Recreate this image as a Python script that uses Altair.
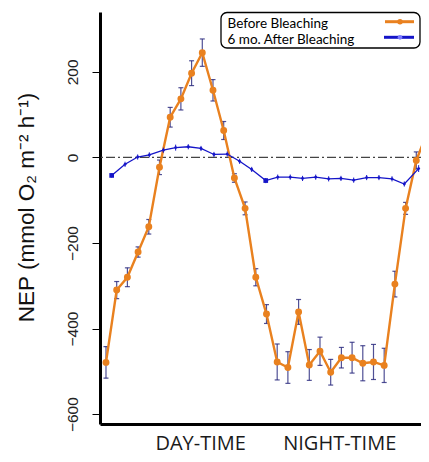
import altair as alt
import pandas as pd

series_names = ["Before Bleaching", "6 mo. After Bleaching"]
period_labels = ["DAY-TIME", "NIGHT-TIME"]
period_pos = [8.8, 21.8]
y_ticks = [200, 0, -200, -400, -600]

before_t = list(range(31))
before_nep = [-479, -310, -280, -221, -162, -23, 94, 137, 197, 245,
              157, 63, -48, -119, -280, -366, -478, -491, -361, -485,
              -453, -502, -468, -468, -481, -478, -486, -296, -119, -7, 57]
before_err = [37, 20, 22, 12, 17, 17, 23, 26, 29, 32,
              25, 21, 10, 15, 20, 22, 42, 37, 29, 36,
              33, 30, 24, 36, 41, 41, 40, 30, 14, 20, 19]

after_t = [0.53, 1.78, 2.96, 4.05, 5.36, 6.51, 7.69, 8.88, 10.09, 11.33,
           12.49, 13.62, 14.93, 16.05, 17.22, 18.37, 19.6, 20.81, 21.96, 23.15,
           24.36, 25.51, 26.73, 27.88, 29.22]
after_nep = [-42, -16, 1, 6, 17, 23, 25, 21, 7, 8,
             -9, -28, -54, -46, -46, -49, -46, -50, -49, -53,
             -47, -47, -50, -62, -26]
after_err = [5, 6, 6, 6, 6, 7, 6, 6, 6, 6,
             6, 6, 6, 6, 6, 6, 6, 6, 6, 6,
             6, 6, 6, 6, 8]

ORANGE = "#E9811F"
BLUE = "#1515C8"
ERR = "#24247A"

before = pd.DataFrame({"t": before_t, "nep": before_nep, "err": before_err})
before["lo"] = before["nep"] - before["err"]
before["hi"] = before["nep"] + before["err"]
after = pd.DataFrame({"t": after_t, "nep": after_nep, "err": after_err})
after["lo"] = after["nep"] - after["err"]
after["hi"] = after["nep"] + after["err"]
after["big"] = [i in (0, 12) for i in range(len(after_t))]

label_expr = "datum.value < 15 ? '%s' : '%s'" % (period_labels[0], period_labels[1])

xscale = alt.Scale(domain=[-0.56, 29.44], nice=False, zero=False)
yscale = alt.Scale(domain=[-623, 340], nice=False, zero=False)

xaxis = alt.Axis(values=period_pos, labelExpr=label_expr, ticks=False, grid=False,
                 domainColor="black", domainWidth=3, labelFont="Open Sans",
                 labelFontSize=20, labelColor="#1a1a1a", labelPadding=25,
                 labelBaseline="alphabetic", labelOverlap=False, labelFlush=False,
                 title=None)
yaxis = alt.Axis(values=y_ticks, grid=False, domainColor="black", domainWidth=3,
                 tickColor="black", tickSize=8, tickWidth=1,
                 labelAngle=270, labelAlign="center", labelBaseline="alphabetic",
                 labelPadding=15, labelFont="Liberation Sans", labelFontSize=15.5,
                 labelColor="#222222",
                 title="NEP (mmol O₂ m⁻² h⁻¹)", titleFont="Liberation Sans",
                 titleFontSize=22.5, titleFontWeight="normal", titleColor="#111111",
                 titleAngle=270, titleX=-67, titleY=195, titleAlign="center",
                 titleBaseline="alphabetic")

one = alt.Data(values=[{"k": 0}])

zero_line = alt.Chart(one).mark_rule(color="#444444", strokeWidth=1.2,
                                      strokeDash=[9, 3, 2, 3]).encode(
    y=alt.datum(0, scale=yscale))

base_b = alt.Chart(before)
err_b = base_b.mark_rule(color=ERR, strokeWidth=1.2, opacity=0.8, clip=True).encode(
    x=alt.X("t:Q", scale=xscale, axis=xaxis),
    y=alt.Y("lo:Q", scale=yscale, axis=yaxis), y2="hi:Q")
cap_lo = base_b.mark_tick(color=ERR, orient="horizontal", size=5, thickness=1.2,
                          opacity=0.8, clip=True).encode(x="t:Q", y="lo:Q")
cap_hi = base_b.mark_tick(color=ERR, orient="horizontal", size=5, thickness=1.2,
                          opacity=0.8, clip=True).encode(x="t:Q", y="hi:Q")
line_b = base_b.mark_line(color=ORANGE, strokeWidth=2.4, clip=True).encode(x="t:Q", y="nep:Q")
pts_b = base_b.mark_point(filled=True, color=ORANGE, size=48, opacity=1, clip=True).encode(
    x="t:Q", y="nep:Q")

base_a = alt.Chart(after)
err_a = base_a.mark_rule(color=BLUE, strokeWidth=1).encode(x="t:Q", y="lo:Q", y2="hi:Q")
line_a = base_a.mark_line(color=BLUE, strokeWidth=1.3).encode(x="t:Q", y="nep:Q")
pts_a = base_a.mark_point(filled=True, color=BLUE, opacity=1).encode(
    x="t:Q", y="nep:Q",
    shape=alt.Shape("big:N", scale=alt.Scale(domain=[False, True], range=["circle", "square"]), legend=None),
    size=alt.Size("big:N", scale=alt.Scale(domain=[False, True], range=[8, 22]), legend=None))

# manual legend (symbols to the right of labels)
leg_box = alt.Chart(one).mark_rect(fill="white", stroke="black", strokeWidth=1.3,
                                   cornerRadius=6).encode(
    x=alt.value(121), x2=alt.value(320), y=alt.value(0.5), y2=alt.value(36))
leg_t1 = alt.Chart(one).mark_text(align="left", baseline="alphabetic", font="Lato",
                                  fontSize=13.5, color="black").encode(
    x=alt.value(127.5), y=alt.value(15.5), text=alt.value(series_names[0]))
leg_t2 = alt.Chart(one).mark_text(align="left", baseline="alphabetic", font="Lato",
                                  fontSize=13.5, color="black").encode(
    x=alt.value(127.5), y=alt.value(31.5), text=alt.value(series_names[1]))
leg_l1 = alt.Chart(one).mark_rule(color=ORANGE, strokeWidth=3).encode(
    x=alt.value(285), x2=alt.value(314), y=alt.value(9.7))
leg_p1 = alt.Chart(one).mark_point(filled=True, color=ORANGE, size=30, opacity=1).encode(
    x=alt.value(300), y=alt.value(9.7))
leg_l2 = alt.Chart(one).mark_rule(color=BLUE, strokeWidth=3).encode(
    x=alt.value(284), x2=alt.value(314), y=alt.value(25.3))
leg_p2 = alt.Chart(one).mark_point(filled=True, color="#7a7aff", size=22, opacity=1).encode(
    x=alt.value(300), y=alt.value(25.3))

chart = alt.layer(
    zero_line, err_b, cap_lo, cap_hi, line_b, pts_b, err_a, line_a, pts_a,
    leg_box, leg_t1, leg_t2, leg_l1, leg_p1, leg_l2, leg_p2
).properties(
    width=321, height=412,
    padding={"left": 92, "top": 4, "right": 0, "bottom": 30},
    autosize=alt.AutoSizeParams(type="none"),
    background="white"
).configure_view(stroke="transparent")

chart.save("out.html", embed_options={"renderer": "svg", "actions": False})
